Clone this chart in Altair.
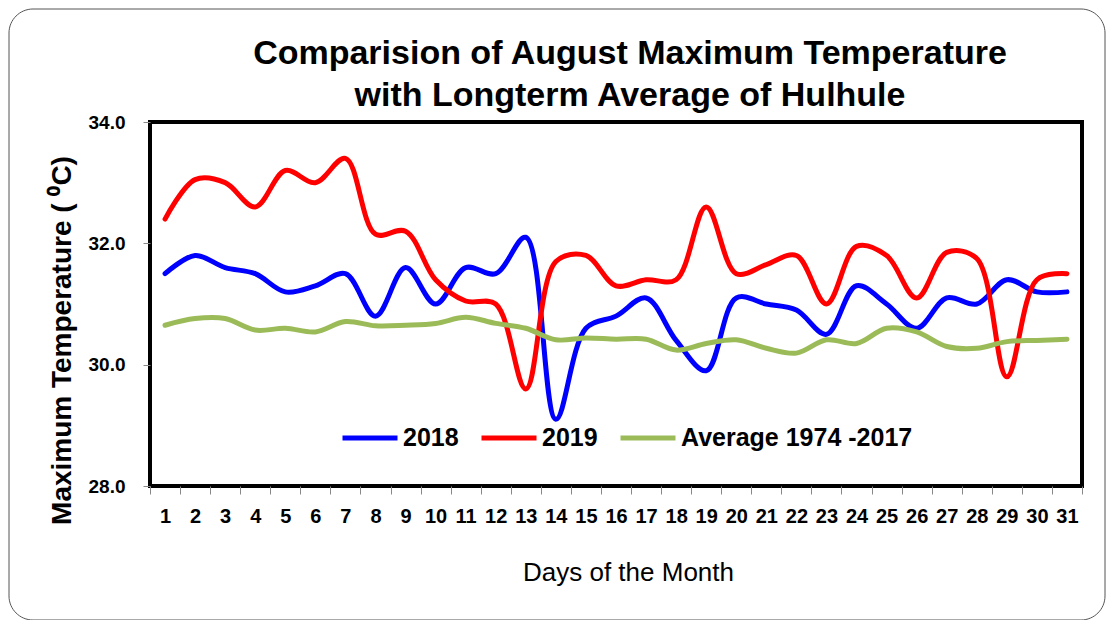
import altair as alt
import pandas as pd

days = list(range(1, 32))
temp_2018 = [31.5, 31.8, 31.6, 31.5, 31.2, 31.3, 31.5, 30.8, 31.6, 31.0, 31.6, 31.5, 32.1, 29.1, 30.6,
             30.8, 31.1, 30.4, 29.9, 31.1, 31.0, 30.9, 30.5, 31.3, 31.0, 30.6, 31.1, 31.0, 31.4, 31.2, 31.2]
temp_2019 = [32.4, 33.05, 33.0, 32.6, 33.2, 33.0, 33.4, 32.15, 32.2, 31.4, 31.05, 31.0, 29.6, 31.7, 31.8,
             31.3, 31.4, 31.4, 32.6, 31.5, 31.65, 31.8, 31.0, 31.95, 31.8, 31.1, 31.85, 31.75, 29.8, 31.4, 31.5]
temp_avg = [30.65, 30.76, 30.76, 30.57, 30.6, 30.54, 30.71, 30.64, 30.65, 30.68, 30.78, 30.68, 30.6, 30.41, 30.44,
            30.42, 30.42, 30.24, 30.35, 30.41, 30.27, 30.19, 30.41, 30.35, 30.6, 30.54, 30.3, 30.27, 30.38, 30.4, 30.42]
series_names = ["2018", "2019", "Average 1974 -2017"]
series_colors = ["#0000FF", "#FF0000", "#9BBB59"]
y_ticks = [28, 30, 32, 34]
title_line_1 = "Comparision of August Maximum Temperature"
title_line_2 = "with Longterm Average of Hulhule"

rows = []
for name, vals in zip(series_names, [temp_2018, temp_2019, temp_avg]):
    for d, v in zip(days, vals):
        rows.append({"day": d, "value": v, "series": name})
df = pd.DataFrame(rows)

FONT = "Liberation Sans"

lines = alt.Chart(df).mark_line(
    interpolate="catmull-rom", strokeWidth=5, strokeCap="round", strokeJoin="round"
).encode(
    x=alt.X("day:O",
            scale=alt.Scale(type="band", paddingInner=0, paddingOuter=0),
            axis=alt.Axis(title="Days of the Month", labelAngle=0, tickBand="extent",
                          domain=False, ticks=True, tickColor="#888888", tickSize=8,
                          labelFont=FONT, labelFontSize=20, labelFontWeight="bold",
                          labelColor="black", labelPadding=12,
                          titleFont=FONT, titleFontSize=26, titleFontWeight="normal",
                          titleColor="black", titleX=478, titleY=86,
                          titleBaseline="middle", titleAnchor="start", titleAlign="center")),
    y=alt.Y("value:Q",
            scale=alt.Scale(domain=[28, 34], nice=False, zero=False),
            axis=alt.Axis(title="Maximum Temperature ( ⁰C)", values=y_ticks, format=".1f",
                          grid=False, domain=False, tickColor="#888888", tickSize=7,
                          labelFont=FONT, labelFontSize=19, labelFontWeight="bold",
                          labelColor="black", labelPadding=18,
                          titleFont=FONT, titleFontSize=28, titleFontWeight="bold",
                          titleColor="black", titleX=-88, titleY=218, titleAngle=-90,
                          titleAlign="center", titleBaseline="middle")),
    color=alt.Color("series:N",
                    scale=alt.Scale(domain=series_names, range=series_colors),
                    sort=series_names,
                    legend=alt.Legend(title=None, orient="none", legendX=190, legendY=286,
                                      direction="horizontal", symbolType="stroke",
                                      symbolStrokeWidth=5, symbolSize=3025,
                                      labelFont=FONT, labelFontSize=25, labelFontWeight="bold",
                                      labelColor="black", labelOffset=3, columnPadding=12,
                                      labelLimit=400)),
)

frame = alt.Chart(alt.Data(values=[{"k": 1}])).mark_rect(
    fill="white", fillOpacity=0, stroke="#555555", strokeWidth=1, cornerRadius=24
).encode(
    x=alt.value(-141), x2=alt.value(955), y=alt.value(-113), y2=alt.value(498)
)

title1 = alt.Chart(alt.Data(values=[{"t": title_line_1}])).mark_text(
    font=FONT, fontSize=34, fontWeight="bold", color="black", align="center", baseline="alphabetic"
).encode(text="t:N", x=alt.value(480), y=alt.value(-58))
title2 = alt.Chart(alt.Data(values=[{"t": title_line_2}])).mark_text(
    font=FONT, fontSize=34, fontWeight="bold", color="black", align="center", baseline="alphabetic"
).encode(text="t:N", x=alt.value(480), y=alt.value(-16))

chart = alt.layer(frame, lines, title1, title2).properties(
    width=932, height=364,
    autosize=alt.AutoSizeParams(type="none"),
    padding={"left": 142, "top": 114, "right": 25, "bottom": 134},
    background="white",
).configure_view(stroke="black", strokeWidth=4)

chart.save("out.html", embed_options={"renderer": "svg", "actions": False})
